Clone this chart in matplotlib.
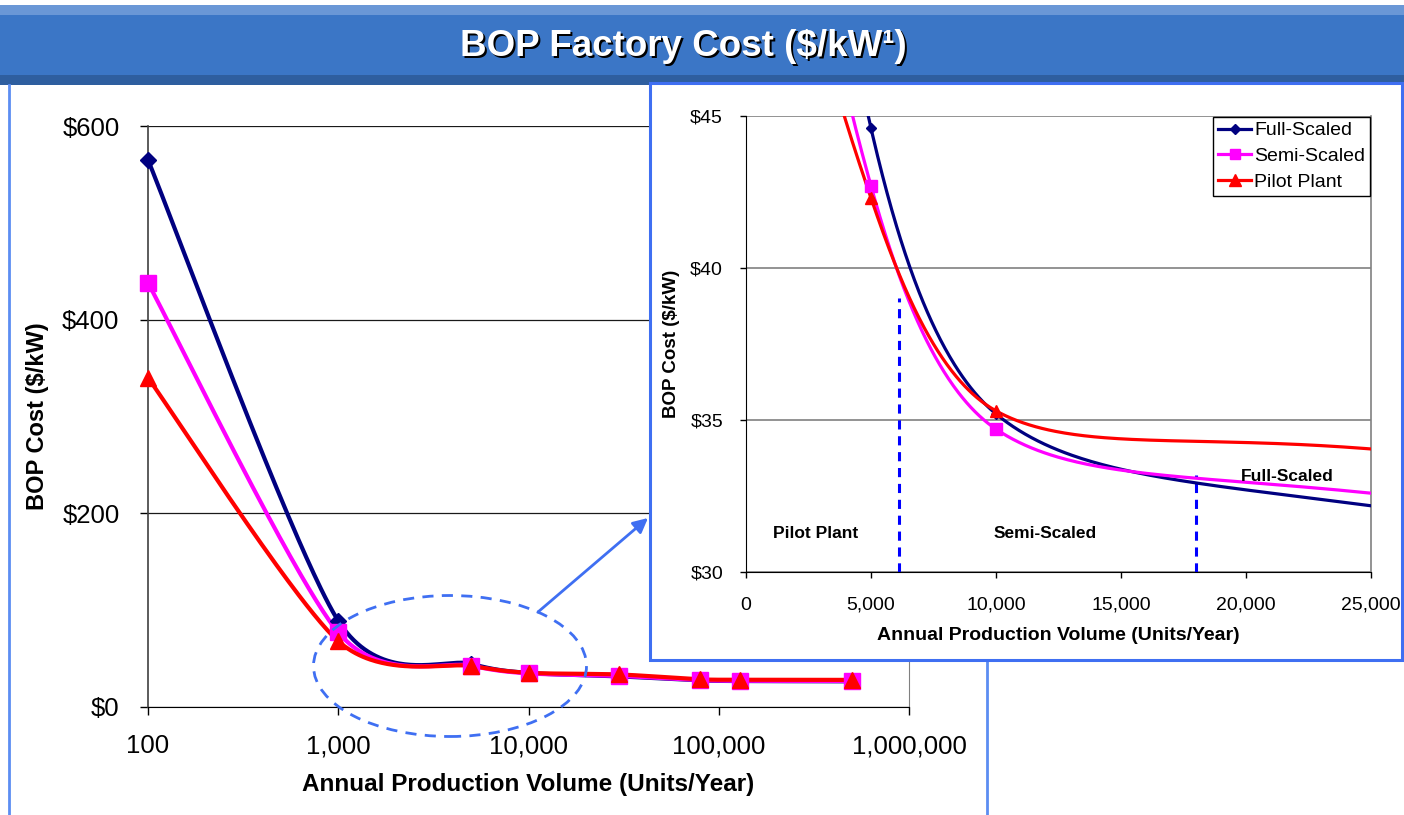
import numpy as np
import matplotlib
matplotlib.use("Agg")
import matplotlib.pyplot as plt
from matplotlib.patches import Rectangle, Ellipse, FancyArrowPatch
from matplotlib.lines import Line2D
from matplotlib.transforms import offset_copy

plt.rcParams['font.family'] = ['Liberation Sans', 'DejaVu Sans']

# ---- data -------------------------------------------------------------
volume = [100, 1000, 5000, 10000, 30000, 80000, 130000, 500000]
full_scaled = [565, 89, 44.6, 35.2, 31.6, 27.5, 26.8, 26.5]
semi_scaled = [438, 77, 42.7, 34.7, 32.1, 27.8, 27.1, 26.9]
pilot_plant = [340, 68, 42.3, 35.3, 33.6, 28.6, 28.2, 28.0]

series_names = ['Full-Scaled', 'Semi-Scaled', 'Pilot Plant']

main_xticks = [100, 1000, 10000, 100000, 1000000]
main_xticklabels = ['100', '1,000', '10,000', '100,000', '1,000,000']
main_yticks = [0, 200, 400, 600]
main_yticklabels = ['$0', '$200', '$400', '$600']

inset_xticks = [0, 5000, 10000, 15000, 20000, 25000]
inset_xticklabels = ['0', '5,000', '10,000', '15,000', '20,000', '25,000']
inset_yticks = [30, 35, 40, 45]
inset_yticklabels = ['$30', '$35', '$40', '$45']

crossover_x = [6100, 18000]
crossover_y = [39.0, 33.2]
region_labels = ['Pilot Plant', 'Semi-Scaled', 'Full-Scaled']
region_label_x = [2800, 11950, 21650]
region_label_y = [31.25, 31.25, 33.15]

title_text = 'BOP Factory Cost (\\$/kW\u00b9)'
ylabel_text = 'BOP Cost (\\$/kW)'
xlabel_text = 'Annual Production Volume (Units/Year)'

# ---- styling ----------------------------------------------------------
colors = ['#000080', '#FF00FF', '#FF0000']
markers = ['D', 's', '^']
main_ms = [7.8, 11.0, 11.8]
inset_ms = [5.4, 8.6, 8.8]
frame_blue = '#3F6FF2'

W, H = 1404, 815
fig = plt.figure(figsize=(W / 100, H / 100), dpi=100)
fig.patch.set_facecolor('white')


def fx(px):
    return px / W


def fy(py):
    return 1 - py / H


def smooth_screen(u, v, n=80, tension=0.8):
    """Bezier smoothing through points with shortened Catmull-Rom handles."""
    P = np.column_stack([np.asarray(u, float), np.asarray(v, float)])
    Pp = np.vstack([P[0], P, P[-1]])
    k = tension / 6.0
    t = np.linspace(0, 1, n)[1:, None]
    out = [P[:1]]
    for i in range(len(P) - 1):
        p0, p1 = P[i], P[i + 1]
        c1 = p0 + (Pp[i + 2] - Pp[i]) * k
        c2 = p1 - (Pp[i + 3] - Pp[i + 1]) * k
        seg = ((1 - t) ** 3) * p0 + 3 * t * (1 - t) ** 2 * c1 \
            + 3 * t ** 2 * (1 - t) * c2 + t ** 3 * p1
        out.append(seg)
    pts = np.vstack(out)
    return pts[:, 0], pts[:, 1]


def smooth_loglog(x, y, n=150):
    """Cubic Hermite curve through points in log-log space."""
    lx = np.log(np.asarray(x, float))
    ly = np.log(np.asarray(y, float))
    m = np.empty_like(lx)
    m[1:-1] = (ly[2:] - ly[:-2]) / (lx[2:] - lx[:-2])
    m[0] = (ly[1] - ly[0]) / (lx[1] - lx[0])
    m[-1] = (ly[-1] - ly[-2]) / (lx[-1] - lx[-2])
    s = np.linspace(0, 1, n)
    xs, ys = [], []
    for i in range(len(lx) - 1):
        h = lx[i + 1] - lx[i]
        h00 = 2 * s ** 3 - 3 * s ** 2 + 1
        h10 = s ** 3 - 2 * s ** 2 + s
        h01 = -2 * s ** 3 + 3 * s ** 2
        h11 = s ** 3 - s ** 2
        xs.append(lx[i] + s * h)
        ys.append(h00 * ly[i] + h10 * h * m[i] + h01 * ly[i + 1] + h11 * h * m[i + 1])
    return np.exp(np.concatenate(xs)), np.exp(np.concatenate(ys))


# ---- title bar --------------------------------------------------------
fig.patches.append(Rectangle((0, fy(15)), 1, 10 / H, transform=fig.transFigure,
                             facecolor='#6A97D6', edgecolor='none', zorder=0.5))
fig.patches.append(Rectangle((0, fy(75)), 1, 60 / H, transform=fig.transFigure,
                             facecolor='#3B76C6', edgecolor='none', zorder=0.5))
fig.patches.append(Rectangle((0, fy(85)), 1, 10 / H, transform=fig.transFigure,
                             facecolor='#2E5E9F', edgecolor='none', zorder=0.5))
shadow = offset_copy(fig.transFigure, fig=fig, x=2.5, y=-2.5, units='dots')
fig.text(fx(683), fy(46), title_text, transform=shadow, color='black', fontsize=26.5,
         fontweight='bold', ha='center', va='center', zorder=3)
fig.text(fx(683), fy(46), title_text, color='white', fontsize=26.5,
         fontweight='bold', ha='center', va='center', zorder=3.1)

# panel frame lines
fig.lines.append(Line2D([fx(9), fx(9)], [fy(85), fy(815)], transform=fig.transFigure,
                        color='#5C8DF2', lw=2, zorder=0.6))
fig.lines.append(Line2D([fx(987), fx(987)], [fy(660), fy(815)], transform=fig.transFigure,
                        color='#5C8DF2', lw=2, zorder=0.6))

# ---- main chart -------------------------------------------------------
ax = fig.add_axes([fx(148), fy(707), (909 - 148) / W, (707 - 126) / H])
ax.set_zorder(0)
ax.set_xscale('log')
ax.set_xlim(100, 1e6)
ax.set_ylim(0, 600)

for vals, c, mk, ms in zip([full_scaled, semi_scaled, pilot_plant], colors, markers, main_ms):
    lx, ly = smooth_screen(np.log10(volume), vals)
    ax.plot(10 ** lx, ly, color=c, lw=3.0, solid_capstyle='round', zorder=3)
    ax.plot(volume, vals, linestyle='none', marker=mk, ms=ms, color=c,
            markeredgecolor=c, zorder=4, clip_on=False)

ax.xaxis.set_major_locator(plt.FixedLocator(main_xticks))
ax.xaxis.set_major_formatter(plt.FixedFormatter(main_xticklabels))
ax.xaxis.set_minor_locator(plt.NullLocator())
ax.set_yticks(main_yticks)
ax.set_yticklabels(main_yticklabels)
ax.tick_params(axis='x', direction='out', length=5.5, width=1, pad=14, labelsize=18.5)
ax.tick_params(axis='y', direction='out', length=5.5, width=1, pad=15, labelsize=18.5)
ax.yaxis.grid(True, color='#1a1a1a', lw=0.9)
ax.set_axisbelow(True)
ax.spines['top'].set_visible(False)
ax.spines['right'].set_color('#808080')
ax.spines['left'].set_color('#404040')
ax.spines['left'].set_linewidth(1.2)
ax.spines['bottom'].set_color('#000000')

fig.text(fx(38), fy(416), ylabel_text, rotation=90, fontsize=17, fontweight='bold',
         ha='center', va='center')
fig.text(fx(528), fy(785), xlabel_text, fontsize=17.5, fontweight='bold',
         ha='center', va='center')

# zoom callout on the main chart
fig.patches.append(Ellipse((fx(450), fy(666)), 273 / W, 141 / H, transform=fig.transFigure,
                           fill=False, edgecolor=frame_blue, lw=2.0, linestyle=(0, (4, 3)),
                           zorder=1.5))
fig.patches.append(FancyArrowPatch((fx(538), fy(612)), (fx(648), fy(518)),
                                   transform=fig.transFigure, arrowstyle='-|>',
                                   mutation_scale=22, color=frame_blue, lw=2.0,
                                   shrinkA=0, shrinkB=0, zorder=1.6))

# inset frame
fig.patches.append(Rectangle((fx(650), fy(660)), (1402 - 650) / W, (660 - 83) / H,
                             transform=fig.transFigure, facecolor='white',
                             edgecolor=frame_blue, lw=2.2, zorder=1.7))

# ---- inset chart ------------------------------------------------------
axi = fig.add_axes([fx(746), fy(572), (1371 - 746) / W, (572 - 116) / H])
axi.set_zorder(2)
axi.patch.set_alpha(0)
axi.set_xlim(0, 25000)
axi.set_ylim(30, 45)

handles = []
for vals, c, mk, ms, name in zip([full_scaled, semi_scaled, pilot_plant], colors,
                                 markers, inset_ms, series_names):
    sx, sy = smooth_loglog(volume, vals)
    axi.plot(sx, sy, color=c, lw=2.3, zorder=3)
    axi.plot(volume, vals, linestyle='none', marker=mk, ms=ms, color=c,
             markeredgecolor=c, zorder=4)
    handles.append(Line2D([], [], color=c, lw=2.3, marker=mk, ms=ms * 0.9,
                          markeredgecolor=c, label=name))

for xv, yv in zip(crossover_x, crossover_y):
    axi.plot([xv, xv], [30, yv], color='#0000FF', lw=2.2, linestyle=(0, (3.0, 2.2)),
             zorder=2.5)

for txt, xv, yv in zip(region_labels, region_label_x, region_label_y):
    axi.text(xv, yv, txt, fontsize=12.5, fontweight='bold', ha='center', va='center',
             zorder=5)

axi.set_xticks(inset_xticks)
axi.set_xticklabels(inset_xticklabels)
axi.set_yticks(inset_yticks)
axi.set_yticklabels(inset_yticklabels)
axi.tick_params(axis='x', direction='out', length=4, width=1, pad=14, labelsize=14)
axi.tick_params(axis='y', direction='out', length=4.5, width=1, pad=12, labelsize=14)
axi.yaxis.grid(True, color='#808080', lw=1.2)
axi.set_axisbelow(True)
axi.spines['top'].set_visible(False)
axi.spines['right'].set_color('#808080')
axi.spines['right'].set_linewidth(1.2)
axi.spines['left'].set_color('#000000')
axi.spines['bottom'].set_color('#000000')

fig.text(fx(672), fy(344), ylabel_text, rotation=90, fontsize=13.5, fontweight='bold',
         ha='center', va='center', zorder=3)
fig.text(fx(1058), fy(636), xlabel_text, fontsize=14, fontweight='bold',
         ha='center', va='center', zorder=3)

leg = axi.legend(handles=handles, loc='upper right', bbox_to_anchor=(1.0, 1.0),
                 borderaxespad=0.05, fontsize=14, frameon=True, fancybox=False,
                 edgecolor='#000000', framealpha=1, handlelength=1.7,
                 handletextpad=0.15, labelspacing=0.42, borderpad=0.25)
leg.get_frame().set_linewidth(1.0)
leg.set_zorder(6)

fig.savefig('out.png', dpi=100, facecolor='white')
